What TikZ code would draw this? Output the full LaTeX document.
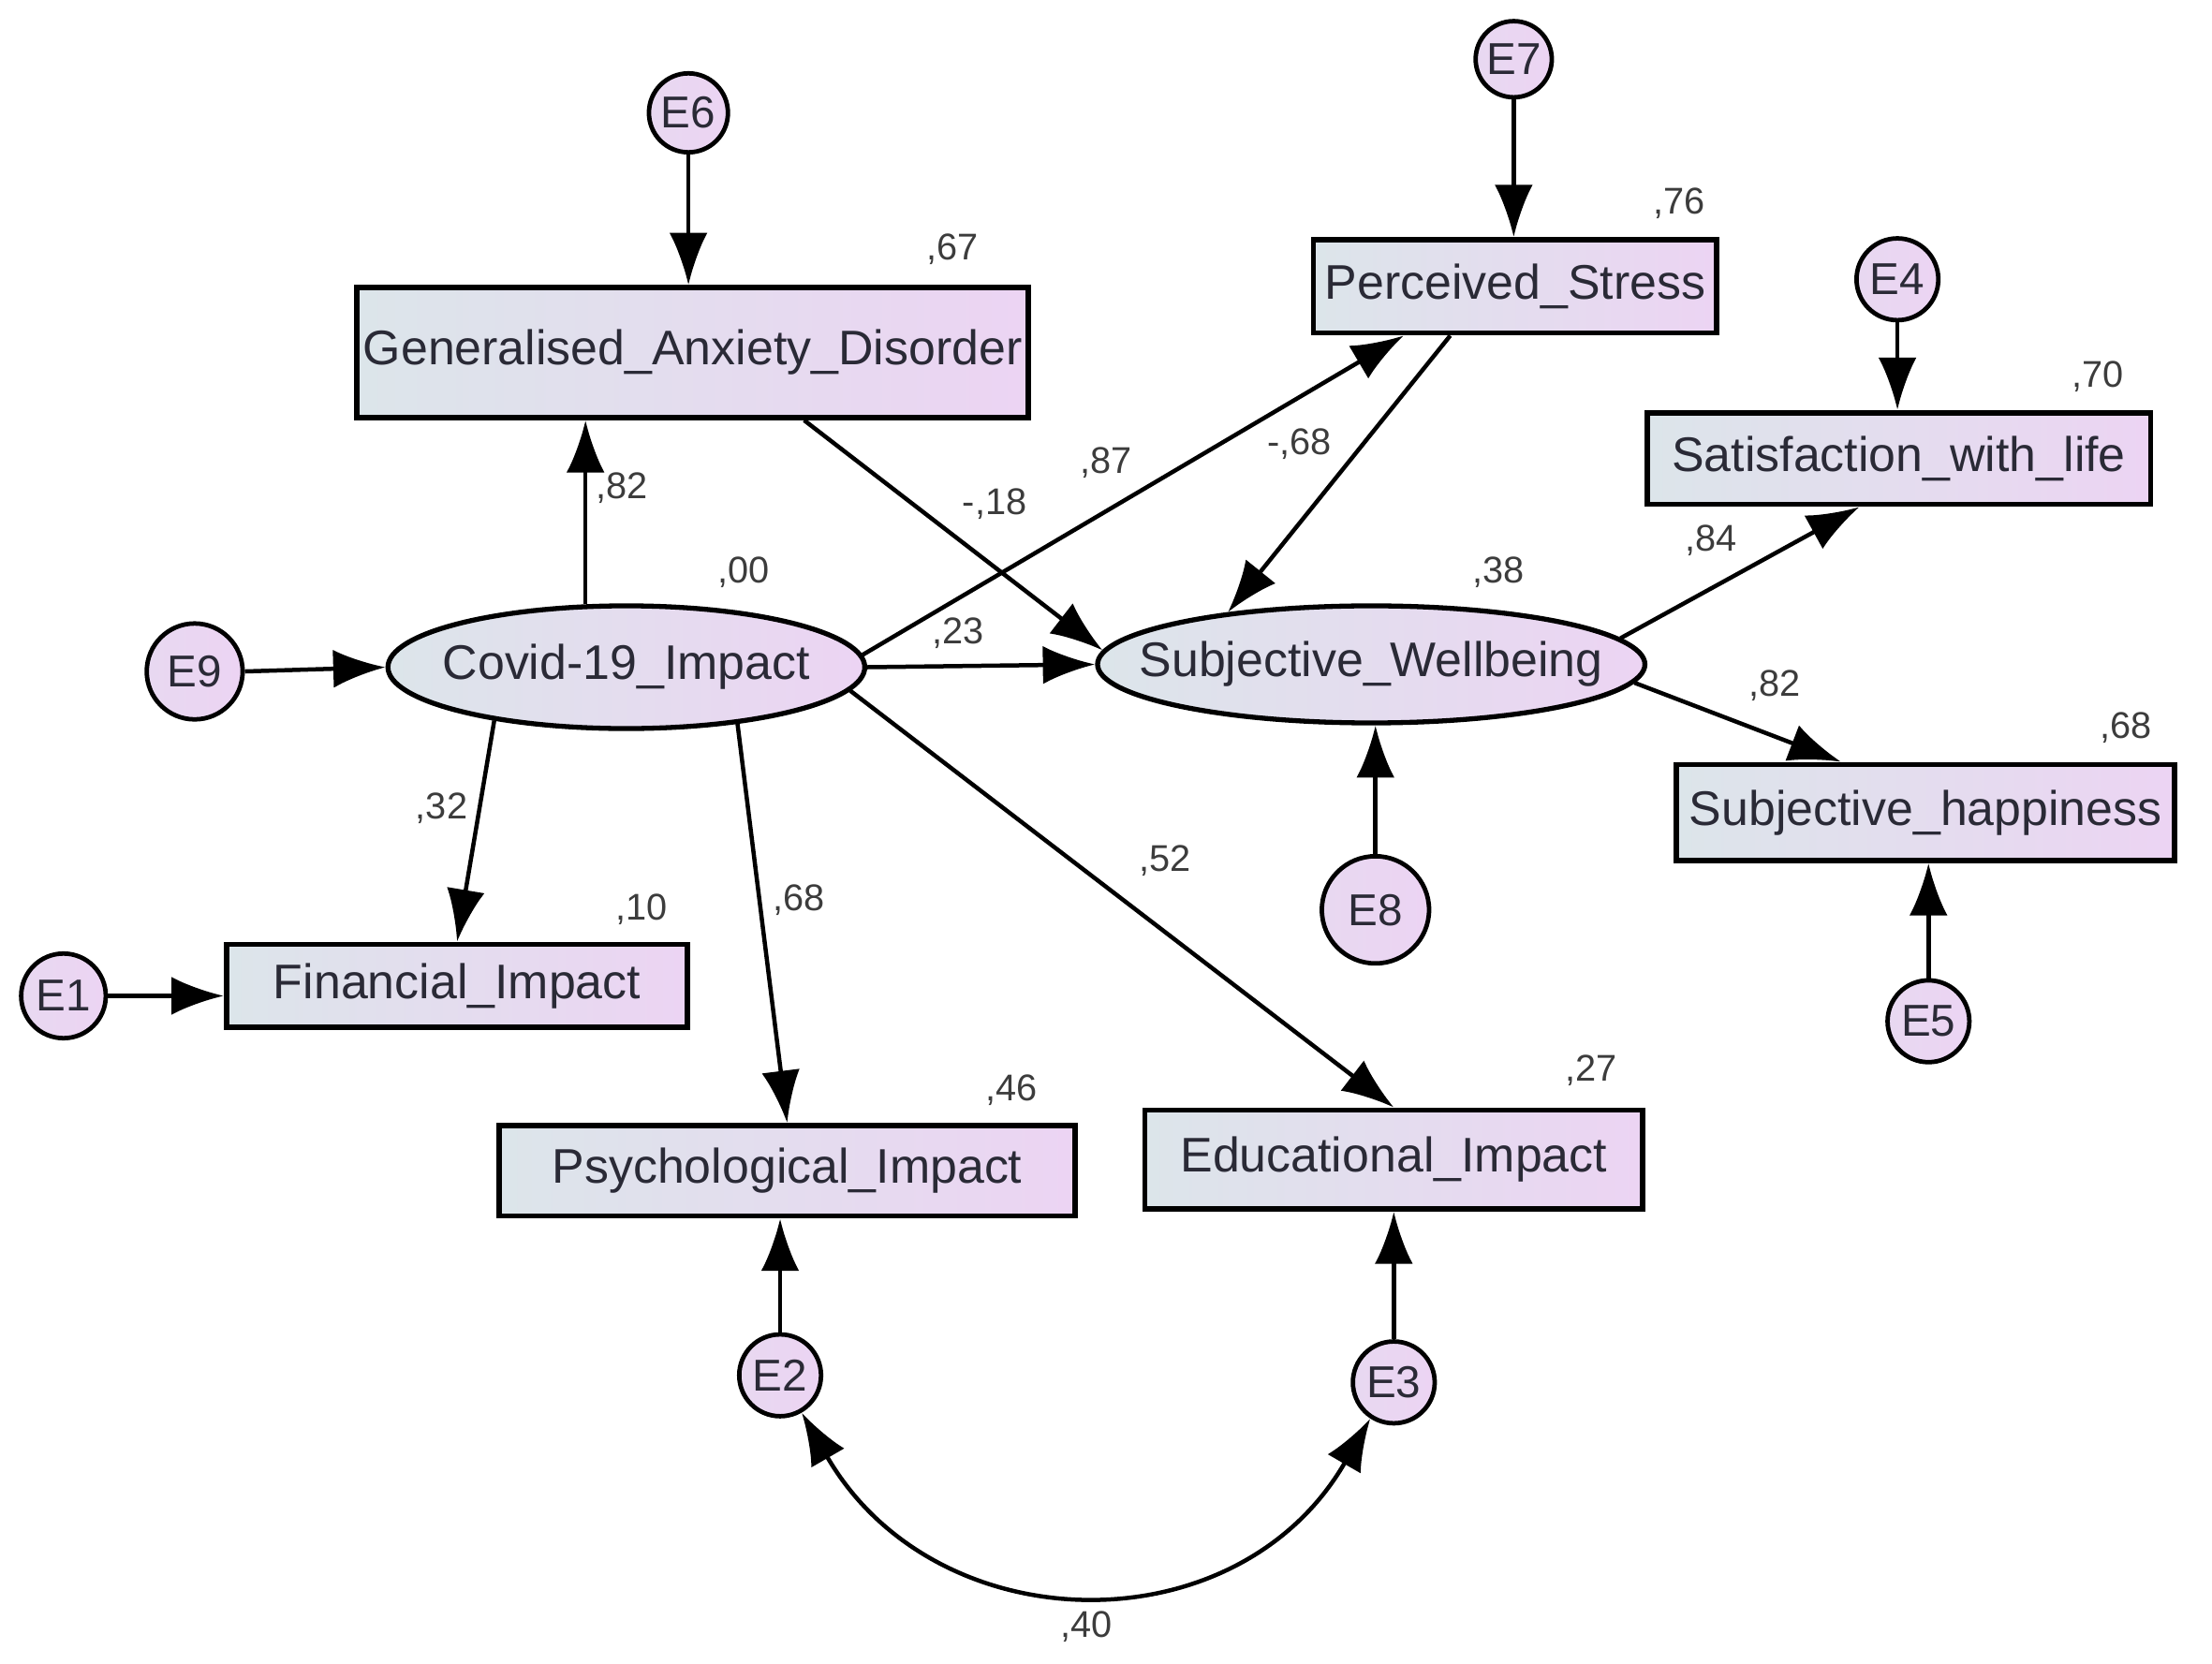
\documentclass[tikz,border=0pt]{standalone}
\usepackage{fontspec}
\setmainfont{Liberation Sans}
\usetikzlibrary{arrows.meta,positioning,shapes.geometric}
\definecolor{amBlue}{HTML}{DCE5EA}
\definecolor{amPink}{HTML}{ECD4F3}
\definecolor{amInk}{HTML}{2A2A36}
\definecolor{amNum}{HTML}{3C3C3C}

\begin{document}
\begin{tikzpicture}[
  >={Latex[length=0.37cm, width=0.27cm]},
  font=\fontsize{9.8pt}{11pt}\selectfont,
  obs/.style ={draw=black, line width=1.1pt, left color=amBlue, right color=amPink,
               text=amInk, inner sep=0pt},
  lat/.style ={ellipse, draw=black, line width=1pt, left color=amBlue, right color=amPink,
               text=amInk, inner sep=0pt},
  err/.style ={circle, draw=black, line width=0.9pt, left color=amPink!75!amBlue,
               right color=amPink, text=amInk, inner sep=0pt,
               font=\fontsize{9pt}{10pt}\selectfont},
  reg/.style ={->, line width=0.85pt},
  cov/.style ={<->, line width=0.85pt},
  est/.style ={inner sep=0pt, text=amNum, font=\fontsize{7.5pt}{9pt}\selectfont},
]
\useasboundingbox (0,0) rectangle (15.68,-11.79);

% ---- latent variables (text boxed to zero width, so the ellipse keeps its size) --
\node[lat, minimum width=3.38cm, minimum height=0.87cm] (covid) at (4.44,-4.73) {\makebox[0pt]{Covid-19\_Impact}};
\node[lat, minimum width=3.88cm, minimum height=0.83cm] (swb) at (9.72,-4.71) {\makebox[0pt]{Subjective\_Wellbeing}};

% ---- observed variables -------------------------------------------------------
\node[obs, minimum width=4.76cm, minimum height=0.92cm] (gad) at (4.91,-2.50) {Generalised\_Anxiety\_Disorder};
\node[obs, minimum width=2.86cm, minimum height=0.66cm] (ps)  at (10.74,-2.03) {Perceived\_Stress};
\node[obs, minimum width=3.57cm, minimum height=0.65cm] (swl) at (13.46,-3.25) {Satisfaction\_with\_life};
\node[obs, minimum width=3.53cm, minimum height=0.68cm] (sh)  at (13.65,-5.76) {Subjective\_happiness};
\node[obs, minimum width=3.27cm, minimum height=0.59cm] (fi)  at (3.24,-6.99) {Financial\_Impact};
\node[obs, minimum width=4.08cm, minimum height=0.64cm] (pi)  at (5.58,-8.30) {Psychological\_Impact};
\node[obs, minimum width=3.53cm, minimum height=0.70cm] (ei)  at (9.88,-8.22) {Educational\_Impact};

% ---- error terms --------------------------------------------------------------
\node[err, minimum size=0.56cm] (e6) at (4.88,-0.80) {E6};
\node[err, minimum size=0.54cm] (e7) at (10.73,-0.42) {E7};
\node[err, minimum size=0.58cm] (e4) at (13.45,-1.98) {E4};
\node[err, minimum size=0.68cm] (e9) at (1.38,-4.76) {E9};
\node[err, minimum size=0.76cm] (e8) at (9.75,-6.45) {E8};
\node[err, minimum size=0.58cm] (e5) at (13.67,-7.24) {E5};
\node[err, minimum size=0.60cm] (e1) at (0.45,-7.06) {E1};
\node[err, minimum size=0.58cm] (e2) at (5.53,-9.75) {E2};
\node[err, minimum size=0.58cm] (e3) at (9.88,-9.80) {E3};

\draw[reg] (e6) -- (e6 |- gad.north);
\draw[reg] (e7) -- (e7 |- ps.north);
\draw[reg] (e4) -- (e4 |- swl.north);
\draw[reg] (e9.east) -- (covid.west);
\draw[reg] (e8) -- (e8 |- swb.south);
\draw[reg] (e5) -- (e5 |- sh.south);
\draw[reg] (e1) -- (e1 -| fi.west);
\draw[reg] (e2) -- (e2 |- pi.south);
\draw[reg] (e3) -- (e3 |- ei.south);

% ---- structural paths ---------------------------------------------------------
\draw[reg] (covid.123) -- (covid.123 |- gad.south);
\draw[reg] (covid.202) -- (fi.north);
\draw[reg] (covid.333) -- (pi.north);
\draw[reg] (covid.354) -- (ei.north);
\draw[reg] (covid.east) -- (swb.west);
\draw[reg] (covid.3) -- ([xshift=-0.79cm]ps.south);
\draw[reg] ([xshift=0.79cm]gad.south) -- (swb.177);
\draw[reg] ([xshift=-0.46cm]ps.south) -- (swb.160);
\draw[reg] (swb.6) -- ([xshift=-0.28cm]swl.south);
\draw[reg] (swb.356) -- ([xshift=-0.60cm]sh.north);
\draw[cov] (e2.-60) to[out=-60, in=-120, looseness=1.2] (e3.237);

% ---- squared multiple correlations --------------------------------------------
\node[est] (r67) at (6.75,-1.77) {,67};
\node[est] (r76) at (11.90,-1.44) {,76};
\node[est] (r70) at (14.87,-2.67) {,70};
\node[est] (r00) at (5.27,-4.06) {,00};
\node[est] (r38) at (10.62,-4.06) {,38};
\node[est] (r68) at (15.07,-5.16) {,68};
\node[est] (r10) at (4.55,-6.45) {,10};
\node[est] (r46) at (7.17,-7.73) {,46};
\node[est] (r27) at (11.28,-7.59) {,27};

% ---- path coefficients --------------------------------------------------------
\node[est] (b82a) at (4.41,-3.46) {,82};
\node[est] (b18)  at (7.05,-3.57) {-,18};
\node[est] (b87)  at (7.84,-3.28) {,87};
\node[est] (b68a) at (9.21,-3.15) {-,68};
\node[est] (b23)  at (6.79,-4.49) {,23};
\node[est] (b32)  at (3.13,-5.73) {,32};
\node[est] (b68b) at (5.66,-6.38) {,68};
\node[est] (b52)  at (8.26,-6.10) {,52};
\node[est] (b84)  at (12.13,-3.83) {,84};
\node[est] (b82b) at (12.58,-4.86) {,82};
\node[est] (c40)  at (7.70,-11.53) {,40};
\end{tikzpicture}
\end{document}
